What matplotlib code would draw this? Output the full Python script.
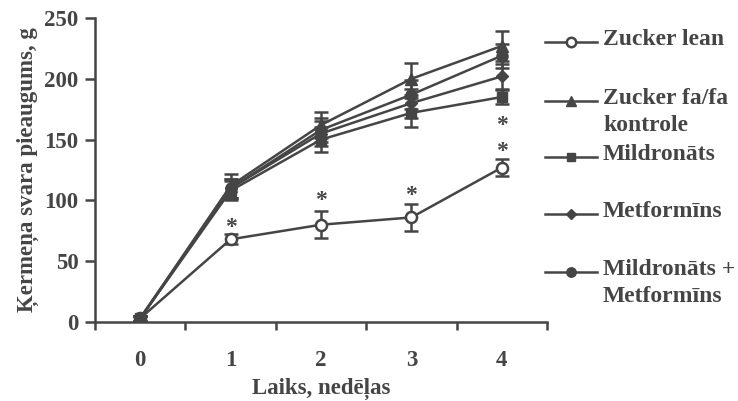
import matplotlib
matplotlib.use("Agg")
import matplotlib.pyplot as plt
from matplotlib.lines import Line2D

weeks = [0, 1, 2, 3, 4]
series_names = ["Zucker lean", "Zucker fa/fa\nkontrole", "Mildronāts", "Metformīns", "Mildronāts +\nMetformīns"]
lean = [3, 68, 80, 86, 127]
lean_err = [2, 4, 11, 11, 7]
fafa = [3, 112, 162, 200, 227]
fafa_err = [2, 10, 11, 13, 12]
mild = [3, 108, 150, 172, 185]
mild_err = [2, 8, 10, 12, 6]
metf = [3, 110, 155, 180, 202]
metf_err = [2, 8, 10, 12, 10]
combo = [3, 110, 158, 187, 219]
combo_err = [2, 8, 10, 12, 10]
star_weeks = [1, 2, 3, 4, 4]
star_vals = [78, 100, 104, 140, 162]
xtick_labels = ["0", "1", "2", "3", "4"]
yticks = [0, 50, 100, 150, 200, 250]

C = "#454545"
plt.rcParams['font.family'] = ['Liberation Serif', 'DejaVu Serif']
plt.rcParams['font.weight'] = 'bold'

fig = plt.figure(figsize=(7.38, 4.01), dpi=100)
ax = fig.add_axes([95/738, 1-322/401, (547-95)/738, (322-18)/401])

styles = [
    (lean, lean_err, dict(marker='o', mfc='white', mec=C, ms=8, mew=1.8)),
    (fafa, fafa_err, dict(marker='^', mfc=C, mec=C, ms=8)),
    (mild, mild_err, dict(marker='s', mfc=C, mec=C, ms=7)),
    (metf, metf_err, dict(marker='D', mfc=C, mec=C, ms=6)),
    (combo, combo_err, dict(marker='o', mfc=C, mec=C, ms=8)),
]
order = [0, 4, 3, 1, 2]
for i in order:
    vals, err, st = styles[i]
    ax.errorbar(weeks, vals, yerr=err, color=C, lw=1.8, capsize=5, capthick=1.8,
                elinewidth=1.8, zorder=3, **st)

for w, v in zip(star_weeks, star_vals):
    ax.text(w, v, "*", ha='center', va='center', fontsize=17, color=C, fontweight='bold')

ax.set_xlim(-0.5, 4.5)
ax.set_ylim(0, 250)
ax.set_xticks([-0.5, 0.5, 1.5, 2.5, 3.5, 4.5])
ax.set_xticklabels([])
ax.set_xticks(weeks, minor=True)
ax.set_xticklabels(xtick_labels, minor=True)
ax.tick_params(axis='x', which='minor', length=0, pad=20, labelsize=16.5, colors=C)
ax.tick_params(axis='x', which='major', direction='out', length=6, width=1.8, colors=C)
ax.set_yticks(yticks)
ax.tick_params(axis='y', direction='out', length=7, width=1.8, labelsize=16.5, colors=C, pad=5)
for s in ['top', 'right']:
    ax.spines[s].set_visible(False)
for s in ['left', 'bottom']:
    ax.spines[s].set_color(C)
    ax.spines[s].set_linewidth(1.8)
ax.spines['left'].set_bounds(0, 250)
ax.set_xlabel("Laiks, nedēļas", fontsize=16.5, color=C, labelpad=5, fontweight='bold')
ax.set_ylabel("Ķermeņa svara pieaugums, g", fontsize=16.5, color=C, labelpad=4, fontweight='bold')

# legend
leg_y = [42, 101, 157, 214, 272]
for (vals, err, st), name, y in zip(styles, series_names, leg_y):
    fy = 1 - y/401
    fig.add_artist(Line2D([545/738, 597/738], [fy, fy], color=C, lw=1.8,
                          transform=fig.transFigure))
    st2 = dict(st)
    st2['ms'] = st2['ms'] * 0.85
    fig.add_artist(Line2D([571/738], [fy], color=C, lw=0, transform=fig.transFigure, **st2))
    fig.text(603/738, fy + 13/401, name, ha='left', va='top', fontsize=17, color=C,
             fontweight='bold', linespacing=1.4, transform=fig.transFigure)

fig.savefig("out.png", dpi=100)
